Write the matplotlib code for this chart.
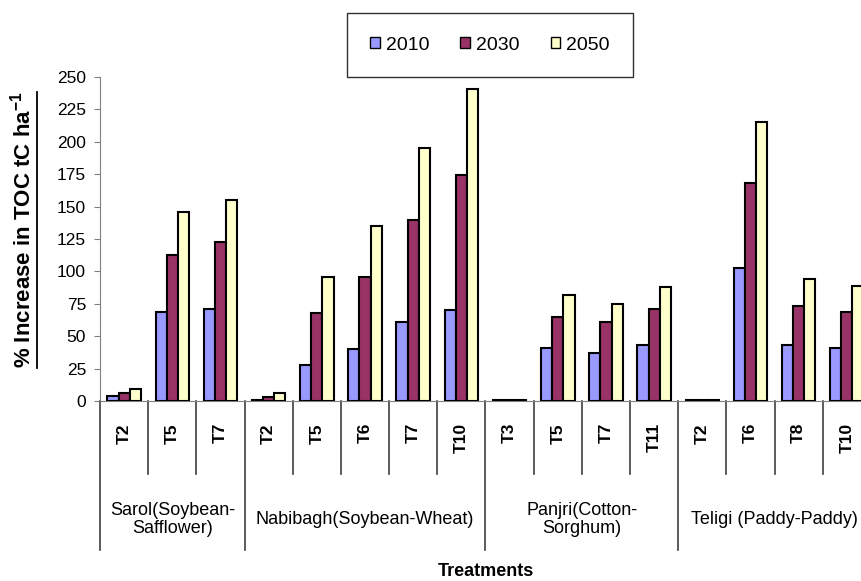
import matplotlib
matplotlib.use("Agg")
import matplotlib.pyplot as plt
from matplotlib.lines import Line2D
from matplotlib.patches import Patch
import numpy as np

plt.rcParams['font.family'] = ['Liberation Sans', 'DejaVu Sans']
plt.rcParams['mathtext.fontset'] = 'custom'
plt.rcParams['mathtext.rm'] = 'Liberation Sans'
plt.rcParams['mathtext.bf'] = 'Liberation Sans:bold'

# sites and their treatments
sites = ["Sarol(Soybean-\nSafflower)", "Nabibagh(Soybean-Wheat)",
         "Panjri(Cotton-\nSorghum)", "Teligi (Paddy-Paddy)"]
site_treatments = [["T2", "T5", "T7"],
                   ["T2", "T5", "T6", "T7", "T10"],
                   ["T3", "T5", "T7", "T11"],
                   ["T2", "T6", "T8", "T10"]]

years = ["2010", "2030", "2050"]
y2010 = [4, 69, 71, 1, 28, 40, 61, 70, 0.8, 41, 37, 43, 0.8, 103, 43, 41]
y2030 = [6, 113, 123, 3, 68, 96, 140, 174, 0.8, 65, 61, 71, 0.8, 168, 73, 69]
y2050 = [9, 146, 155, 6, 96, 135, 195, 241, 0.8, 82, 75, 88, 0.8, 215, 94, 89]
colors = ["#9999FF", "#993366", "#FFFFCC"]

labels = [t for ts in site_treatments for t in ts]
x = np.arange(len(labels))

fig = plt.figure(figsize=(8.61, 5.81), dpi=100)
ax = fig.add_axes([100 / 861, 180 / 581, 771 / 861, 324 / 581])

w = 0.232
for i, (vals, c, yr) in enumerate(zip([y2010, y2030, y2050], colors, years)):
    ax.bar(x + (i - 1) * w, vals, width=w, color=c, edgecolor="black",
           linewidth=1.5, label=yr, zorder=3)

ax.set_xlim(-0.5, len(labels) - 0.5)
ax.set_ylim(0, 250)
ax.set_yticks(np.arange(0, 251, 25))
ax.set_xticks([])
ax.tick_params(axis="y", direction="out", length=4, color="#808080",
               labelsize=12.5, pad=6)
for s in ["top", "right"]:
    ax.spines[s].set_visible(False)
ax.spines["left"].set_color("#808080")
ax.spines["bottom"].set_color("#808080")

# category separators under the axis
trans = ax.get_xaxis_transform()
group_edges = np.cumsum([0] + [len(t) for t in site_treatments]) - 0.5
for b in np.arange(-0.5, len(labels)):
    if b in group_edges:
        y_end = -0.46
    else:
        y_end = -0.225
    ax.plot([b, b], [0, y_end], transform=trans, color="#404040", lw=1.2,
            clip_on=False)

for xi, lab in zip(x, labels):
    ax.text(xi, -0.068, lab, transform=trans, rotation=90, ha="center",
            va="top", fontsize=12.5, fontweight="bold")

for k, name in enumerate(sites):
    cx = (group_edges[k] + group_edges[k + 1]) / 2
    ax.text(cx, -0.366, name, transform=trans, ha="center", va="center",
            fontsize=13, linespacing=1.05)

ax.text(0.5, -0.525, "Treatments", transform=ax.transAxes, ha="center",
        va="center", fontsize=13, fontweight="bold")

ylab = fig.text(23 / 861, 1 - 230 / 581,
                r"% Increase in TOC tC ha$^{\mathbf{-1}}$",
                rotation=90, ha="center", va="center", fontsize=16,
                fontweight="bold")

handles = [Patch(facecolor=c, edgecolor="black", linewidth=1) for c in colors]
fig.legend(handles, years, loc="center", bbox_to_anchor=(490 / 861, 1 - 45 / 581),
           ncol=3, fontsize=14, frameon=True, fancybox=False, edgecolor="#303030",
           borderpad=1.2, handlelength=0.5, handleheight=0.5, handletextpad=0.3,
           columnspacing=1.6, framealpha=1)

# underline the y label
fig.canvas.draw()
bb = ylab.get_window_extent()
inv = fig.transFigure.inverted()
(x0, y0), (x1, y1) = inv.transform([(bb.x1 + 1, bb.y0), (bb.x1 + 1, bb.y1)])
fig.add_artist(Line2D([x0, x1], [y0, y1], transform=fig.transFigure,
                      color="black", lw=1.3))

fig.savefig("out.png", dpi=100)
